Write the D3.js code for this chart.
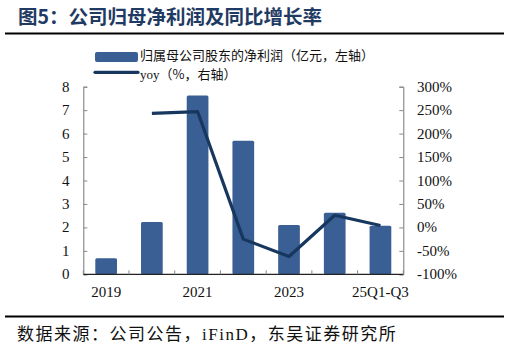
<!DOCTYPE html>
<html><head><meta charset="utf-8">
<script src="https://cdn.jsdelivr.net/npm/d3@7"></script>
<style>body{margin:0;background:#fff}svg{display:block}</style>
</head><body>
<script>
const categories = ["2019","2020","2021","2022","2023","2024","25Q1-Q3"];
const netProfit = [0.68, 2.23, 7.62, 5.70, 2.10, 2.63, 2.07];
const yoy = [null, 243, 247, -25, -62, 26, 4];
const leftTicks = [0,1,2,3,4,5,6,7,8];
const rightTicks = [-100,-50,0,50,100,150,200,250,300];
const xLabelShown = ["2019","2021","2023","25Q1-Q3"];

(function(){
const W=510,H=350;
const svg=d3.select("body").append("svg").attr("width",W).attr("height",H);
const serif="'Liberation Serif','Times New Roman',serif";
const cjk="'Noto Sans CJK SC',sans-serif";
const barColor="#3a5f95", lineColor="#17375e";

// title
svg.append("text").attr("x",18).attr("y",24).attr("font-family",cjk).attr("font-weight","bold")
  .attr("font-size",19.5).attr("fill","#1f3b63").text("图5：公司归母净利润及同比增长率");
svg.append("line").attr("x1",5).attr("x2",504).attr("y1",33.5).attr("y2",33.5).attr("stroke","#000").attr("stroke-width",2);

const pL=83.3,pR=403.3,pT=86.7,pB=274.3;
const x=d3.scaleBand().domain(categories).range([pL,pR]).paddingInner(0.525).paddingOuter(0.2625);
const yL=d3.scaleLinear().domain([0,8]).range([pB,pT]);
const yR=d3.scaleLinear().domain([-100,300]).range([pB,pT]);

// bars
svg.append("g").selectAll("rect").data(categories).join("rect")
  .attr("x",d=>x(d)).attr("width",x.bandwidth())
  .attr("y",(d,i)=>yL(netProfit[i])).attr("height",(d,i)=>yL(0)-yL(netProfit[i]))
  .attr("rx",1.5).attr("fill",barColor);

// axes
const gl=svg.append("g").attr("transform",`translate(${pL},0)`)
  .call(d3.axisRight(yL).tickValues(leftTicks).tickSize(4).tickFormat(""));
gl.selectAll("line").attr("stroke","#888");
gl.select(".domain").attr("stroke","#777");
svg.append("g").selectAll("text").data(leftTicks).join("text")
  .attr("x",69.5).attr("y",d=>yL(d)+5).attr("text-anchor","end")
  .attr("font-family",serif).attr("font-size",15).attr("fill","#111").text(d=>d);

const gr=svg.append("g").attr("transform",`translate(${pR},0)`)
  .call(d3.axisLeft(yR).tickValues(rightTicks).tickSize(4).tickFormat(""));
gr.selectAll("line").attr("stroke","#888");
gr.select(".domain").attr("stroke","#777");
svg.append("g").selectAll("text").data(rightTicks).join("text")
  .attr("x",417).attr("y",d=>yR(d)+5).attr("text-anchor","start")
  .attr("font-family",serif).attr("font-size",15).attr("fill","#111").text(d=>d+"%");

// x axis
const step=x.step();
const bounds=d3.range(categories.length+1).map(i=>pL+i*step);
svg.append("line").attr("x1",pL).attr("x2",pR).attr("y1",pB).attr("y2",pB).attr("stroke","#222").attr("stroke-width",1.2);
svg.append("g").selectAll("line").data(bounds).join("line")
  .attr("x1",d=>d).attr("x2",d=>d).attr("y1",pB).attr("y2",pB-4).attr("stroke","#888");
svg.append("g").selectAll("text").data(xLabelShown).join("text")
  .attr("x",d=>x(d)+x.bandwidth()/2).attr("y",297).attr("text-anchor","middle")
  .attr("font-family",serif).attr("font-size",15).attr("fill","#111").text(d=>d);

// line
const pts=categories.map((c,i)=>({c,v:yoy[i]})).filter(d=>d.v!==null);
svg.append("path").datum(pts)
  .attr("d",d3.line().x(d=>x(d.c)+x.bandwidth()/2).y(d=>yR(d.v)))
  .attr("fill","none").attr("stroke",lineColor).attr("stroke-width",3.2).attr("stroke-linejoin","round");

// legend
svg.append("rect").attr("x",95).attr("y",52).attr("width",43).attr("height",10).attr("rx",2).attr("fill",barColor);
svg.append("text").attr("x",140).attr("y",59.5).attr("font-family",cjk).attr("font-size",13).attr("fill","#111")
  .text("归属母公司股东的净利润（亿元，左轴）");
svg.append("line").attr("x1",95).attr("x2",138).attr("y1",72.3).attr("y2",72.3).attr("stroke",lineColor).attr("stroke-width",3.2).attr("stroke-linecap","round");
const t2=svg.append("text").attr("x",140).attr("y",78.5).attr("font-size",13).attr("fill","#111");
t2.append("tspan").attr("font-family",serif).text("yoy");
t2.append("tspan").attr("font-family",cjk).text("（%，右轴）");

// footer
svg.append("line").attr("x1",5).attr("x2",504).attr("y1",316.5).attr("y2",316.5).attr("stroke","#000").attr("stroke-width",2);
const f=svg.append("text").attr("x",17).attr("y",340).attr("font-size",17).attr("letter-spacing",1.5).attr("fill","#111");
f.append("tspan").attr("font-family",cjk).text("数据来源：公司公告，");
f.append("tspan").attr("font-family",serif).text("iFinD");
f.append("tspan").attr("font-family",cjk).text("，东吴证券研究所");
})();
</script>
</body></html>
